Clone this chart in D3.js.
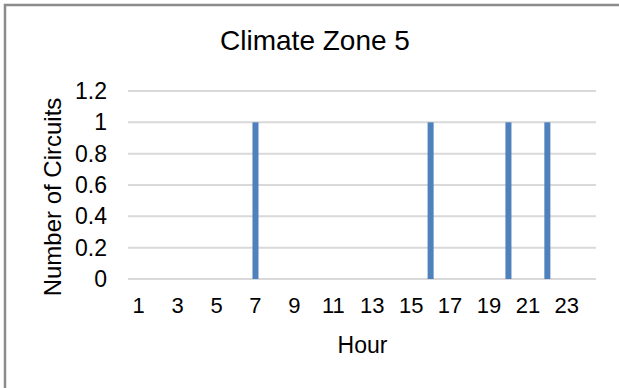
<!DOCTYPE html>
<html>
<head>
<meta charset="utf-8">
<script src="https://cdn.jsdelivr.net/npm/d3@7"></script>
<style>
  html, body { margin: 0; padding: 0; background: #fff; }
  text { font-family: "Liberation Sans", Arial, sans-serif; fill: #000; }
</style>
</head>
<body>
<div class="chart"></div>
<script>
// hours of the day and circuits counted for each one
const hours = [1, 2, 3, 4, 5, 6, 7, 8, 9, 10, 11, 12, 13, 14, 15, 16, 17, 18, 19, 20, 21, 22, 23, 24];
const circuits = [0, 0, 0, 0, 0, 0, 1, 0, 0, 0, 0, 0, 0, 0, 0, 1, 0, 0, 0, 1, 0, 1, 0, 0];
const hourLabels = [1, 3, 5, 7, 9, 11, 13, 15, 17, 19, 21, 23];
const yTicks = [0, 0.2, 0.4, 0.6, 0.8, 1, 1.2];

const W = 619, H = 388;
const plot = { left: 129, right: 596, top: 91, bottom: 279 };

const data = hours.map((h, i) => ({ hour: h, value: circuits[i] }));

const svg = d3.select('.chart')
  .append('svg')
  .attr('width', W)
  .attr('height', H);

// outer frame, only top and left edges show
svg.append('rect')
  .attr('x', 5)
  .attr('y', 5)
  .attr('width', W + 20)
  .attr('height', H + 20)
  .attr('fill', '#fff')
  .attr('stroke', '#8c8c8c')
  .attr('stroke-width', 2.5);

const x = d3.scaleBand()
  .domain(hours)
  .range([plot.left, plot.right])
  .paddingInner(0.69)
  .paddingOuter(0.345);

const y = d3.scaleLinear()
  .domain([0, 1.2])
  .range([plot.bottom, plot.top]);

// gridlines
svg.append('g')
  .selectAll('line')
  .data(yTicks)
  .enter()
  .append('line')
  .attr('x1', plot.left - 1)
  .attr('x2', plot.right)
  .attr('y1', d => y(d))
  .attr('y2', d => y(d))
  .attr('stroke', '#d9d9d9')
  .attr('stroke-width', 2);

// bars
svg.append('g')
  .selectAll('rect')
  .data(data)
  .enter()
  .append('rect')
  .attr('x', d => x(d.hour))
  .attr('width', x.bandwidth())
  .attr('y', d => y(d.value))
  .attr('height', d => y(0) - y(d.value))
  .attr('fill', '#4f81bd');

const yAxis = d3.axisLeft(y)
  .tickValues(yTicks)
  .tickFormat(d3.format('~g'))
  .tickSize(0)
  .tickPadding(22);

const yG = svg.append('g')
  .attr('transform', `translate(${plot.left},0)`)
  .call(yAxis);
yG.select('.domain').remove();
yG.selectAll('text')
  .style('font-size', '23px')
  .style('font-family', '"Liberation Sans", Arial, sans-serif')
  .attr('fill', '#000');

const xAxis = d3.axisBottom(x)
  .tickValues(hourLabels)
  .tickSize(0)
  .tickPadding(18);

const xG = svg.append('g')
  .attr('transform', `translate(0,${plot.bottom})`)
  .call(xAxis);
xG.select('.domain').remove();
xG.selectAll('text')
  .style('font-size', '22px')
  .style('font-family', '"Liberation Sans", Arial, sans-serif')
  .attr('fill', '#000');

svg.append('text')
  .attr('x', 315)
  .attr('y', 50)
  .attr('text-anchor', 'middle')
  .style('font-size', '28px')
  .text('Climate Zone 5');

svg.append('text')
  .attr('x', (plot.left + plot.right) / 2)
  .attr('y', 353)
  .attr('text-anchor', 'middle')
  .style('font-size', '23px')
  .text('Hour');

svg.append('text')
  .attr('transform', 'translate(61,197) rotate(-90)')
  .attr('text-anchor', 'middle')
  .style('font-size', '24px')
  .text('Number of Circuits');
</script>
</body>
</html>
